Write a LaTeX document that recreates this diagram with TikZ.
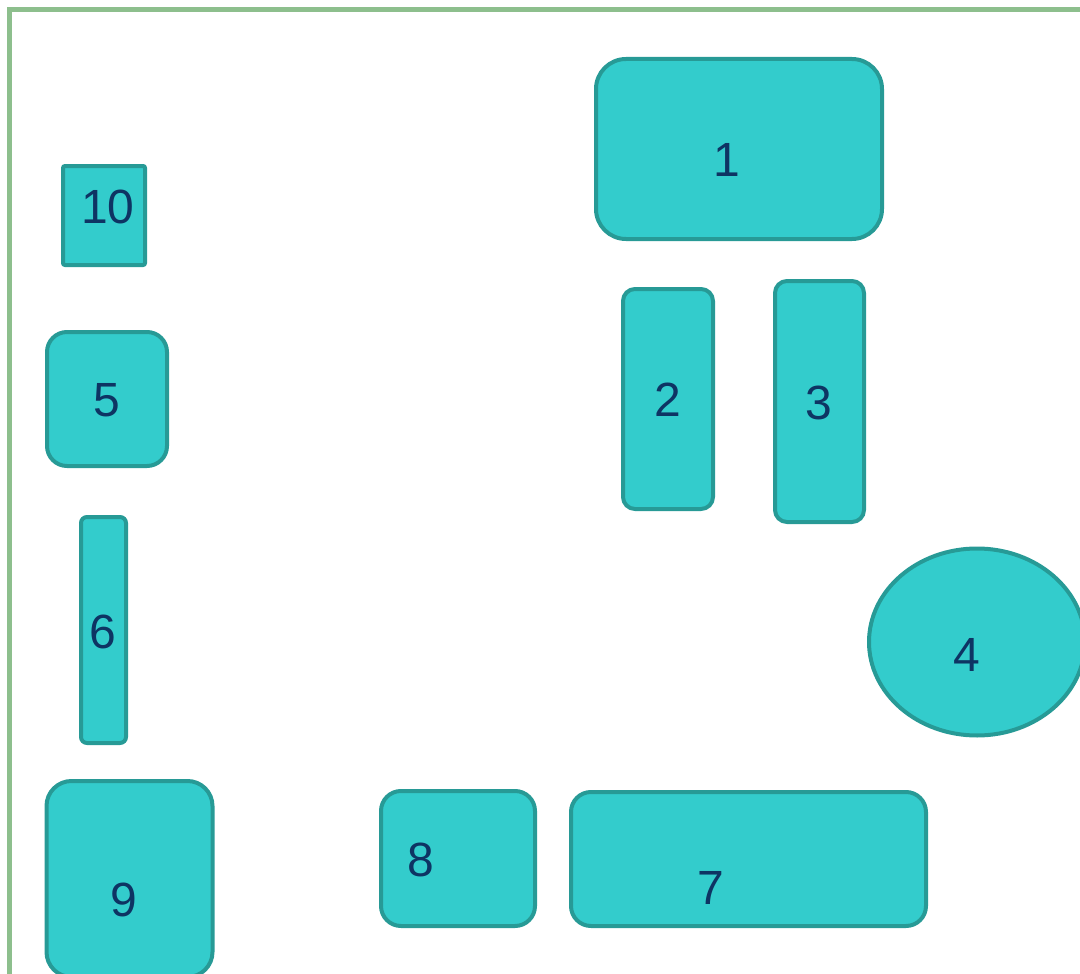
\documentclass[tikz,border=0pt]{standalone}
\usepackage{fontspec}
\setmainfont{Liberation Sans}
\usetikzlibrary{shapes.geometric}
\definecolor{tfill}{HTML}{33CCCC}
\definecolor{tline}{HTML}{279A96}
\definecolor{ttext}{HTML}{0E3463}
\definecolor{gline}{HTML}{8DBF8D}
\tikzset{
  shp/.style={draw=tline, fill=tfill, line width=4pt, inner sep=0pt},
  rbox/.style={shp, rectangle},
  oval/.style={shp, ellipse},
  lbl/.style={text=ttext, font=\fontsize{48}{48}\selectfont, inner sep=0pt, anchor=center},
}
\begin{document}
\begin{tikzpicture}[x=1pt,y=-1pt]
\useasboundingbox (0,0) rectangle (1080,974);
\clip (0,0) rectangle (1080,974);
\draw[gline, line width=5pt] (9.5,1100) -- (9.5,9.5) -- (1100,9.5);
\node[rbox, rounded corners=30pt, minimum width=286pt, minimum height=180pt] (s1) at (739,149) {};
\node[rbox, rounded corners=2pt, minimum width=82pt, minimum height=99pt] (s10) at (104,215.5) {};
\node[rbox, rounded corners=20pt, minimum width=120pt, minimum height=134pt] (s5) at (107,399) {};
\node[rbox, rounded corners=12pt, minimum width=90pt, minimum height=220pt] (s2) at (668,399) {};
\node[rbox, rounded corners=12pt, minimum width=89pt, minimum height=241pt] (s3) at (819.5,401.5) {};
\node[rbox, rounded corners=6pt, minimum width=45pt, minimum height=226pt] (s6) at (103.5,630) {};
\node[oval, minimum width=216pt, minimum height=187pt] (s4) at (977,642) {};
\node[rbox, rounded corners=25pt, minimum width=166pt, minimum height=196pt] (s9) at (129.5,879) {};
\node[rbox, rounded corners=20pt, minimum width=154pt, minimum height=135pt] (s8) at (458,858.5) {};
\node[rbox, rounded corners=20pt, minimum width=355pt, minimum height=134pt] (s7) at (748.5,859) {};
\node[lbl] (t1) at (727,160) {1};
\node[lbl] (t10) at (108,207) {10};
\node[lbl] (t5) at (107,400) {5};
\node[lbl] (t2) at (668,400) {2};
\node[lbl] (t3) at (819,403) {3};
\node[lbl] (t6) at (103,632) {6};
\node[lbl] (t4) at (967,655) {4};
\node[lbl] (t9) at (124,900) {9};
\node[lbl] (t8) at (421,860) {8};
\node[lbl] (t7) at (711,888) {7};
\end{tikzpicture}
\end{document}
